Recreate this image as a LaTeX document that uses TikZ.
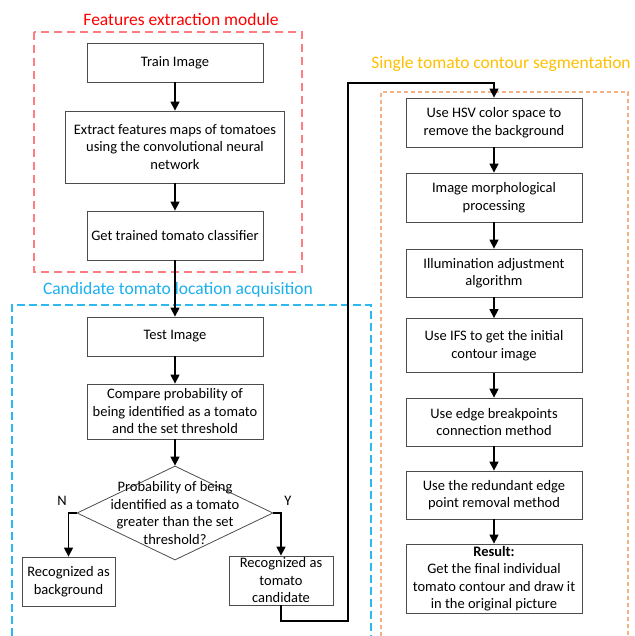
\documentclass[tikz,border=0pt]{standalone}
\usepackage{fontspec}
\setmainfont{Carlito}
\usetikzlibrary{shapes.geometric,arrows.meta}
\definecolor{modred}{HTML}{FF0000}
\definecolor{dashred}{HTML}{FF7C80}
\definecolor{modblue}{HTML}{1AAFEF}
\definecolor{dashblue}{HTML}{2EB8F0}
\definecolor{modorange}{HTML}{FFC000}
\definecolor{dashorange}{HTML}{F4B183}
\begin{document}
\begin{tikzpicture}[x=1pt,y=-1pt,
    box/.style={draw=black!70, line width=0.8pt, align=center, inner sep=1pt,
        minimum width=176pt, font=\fontsize{14.5}{17.5}\selectfont},
    decision/.style={diamond, draw=black!70, line width=0.8pt, inner sep=0pt,
        minimum width=196pt, minimum height=94pt},
    arr/.style={-{Triangle[length=9pt,width=9pt]}, line width=1.4pt},
    title/.style={font=\fontsize{17.5}{20}\selectfont}]

    \useasboundingbox (0,0) rectangle (634,636);

    % Module frames
    \draw[dashred, line width=1.3pt, dash pattern=on 8pt off 5pt] (34,32) rectangle (302,272);
    \draw[dashblue, line width=1.3pt, dash pattern=on 8pt off 4pt] (12,636) -- (12,305) -- (371,305) -- (371,636);
    \draw[dashorange, line width=1.3pt, dash pattern=on 4pt off 3pt] (381,636) -- (381,92) -- (628,92) -- (628,636);

    % Module titles
    \node[title, text=modred] (tfeat) at (181,19) {Features extraction module};
    \node[title, text=modblue] (tcand) at (178,290) {Candidate tomato location acquisition};
    \node[title, text=modorange] (tseg) at (501,64) {Single tomato contour segmentation};

    % Features extraction
    \node[box, minimum height=39pt] (train) at (175,62.5) {Train Image};
    \node[box, minimum width=219pt, minimum height=72pt] (extract) at (175,147)
        {Extract features maps of tomatoes\\using the convolutional neural\\network};
    \node[box, minimum height=49pt] (classifier) at (175,235.5) {Get trained tomato classifier};

    % Candidate location
    \node[box, minimum height=39pt] (test) at (175,336.5) {Test Image};
    \node[box, minimum height=55pt] (compare) at (175,411.5)
        {Compare probability of\\being identified as a tomato\\and the set threshold};
    \node[decision, label={[align=center, font=\fontsize{14.5}{17.5}\selectfont]center:Probability of being\\identified as a tomato\\greater than the set\\threshold?}] (dec) at (175,513) {};
    \node[font=\fontsize{14.5}{17.5}\selectfont] (lbln) at (62,501) {N};
    \node[font=\fontsize{14.5}{17.5}\selectfont] (lbly) at (288,501) {Y};
    \node[box, minimum width=93pt, minimum height=49pt] (background) at (68.5,581.5)
        {Recognized as\\background};
    \node[box, minimum width=104pt, minimum height=49pt, inner ysep=0pt] (cand) at (281,580.5)
        {Recognized as\\tomato\\candidate};

    % Contour segmentation
    \node[box, minimum height=49pt] (hsv) at (494,122.5) {Use HSV color space to\\remove the background};
    \node[box, minimum height=49pt] (morph) at (494,197.5) {Image morphological\\processing};
    \node[box, minimum height=48pt] (illum) at (494,273) {Illumination adjustment\\algorithm};
    \node[box, minimum height=54pt] (ifs) at (494,345.5) {Use IFS to get the initial\\contour image};
    \node[box, minimum height=48pt] (edge) at (494,422) {Use edge breakpoints\\connection method};
    \node[box, minimum height=48pt] (redundant) at (494,495) {Use the redundant edge\\point removal method};
    \node[box, minimum height=69pt, inner ysep=0pt] (result) at (494,578.5)
        {\textbf{Result:}\\Get the final individual\\tomato contour and draw it\\in the original picture};

    % Arrows
    \draw[arr] (train) -- (extract);
    \draw[arr] (extract) -- (classifier);
    \draw[arr] (classifier) -- (test);
    \draw[arr] (test) -- (compare);
    \draw[arr] (compare) -- (dec);
    \draw[arr] (dec.west) -| (background.north);
    \draw[arr] (dec.east) -| (cand.north);

    % Candidate to segmentation
    \coordinate (loopa) at (348,621);
    \coordinate (loopb) at (348,83);
    \draw[arr] (cand.south) |- (loopa) -- (loopb) -| (hsv.north);

    \draw[arr] (hsv) -- (morph);
    \draw[arr] (morph) -- (illum);
    \draw[arr] (illum) -- (ifs);
    \draw[arr] (ifs) -- (edge);
    \draw[arr] (edge) -- (redundant);
    \draw[arr] (redundant) -- (result);

\end{tikzpicture}
\end{document}
